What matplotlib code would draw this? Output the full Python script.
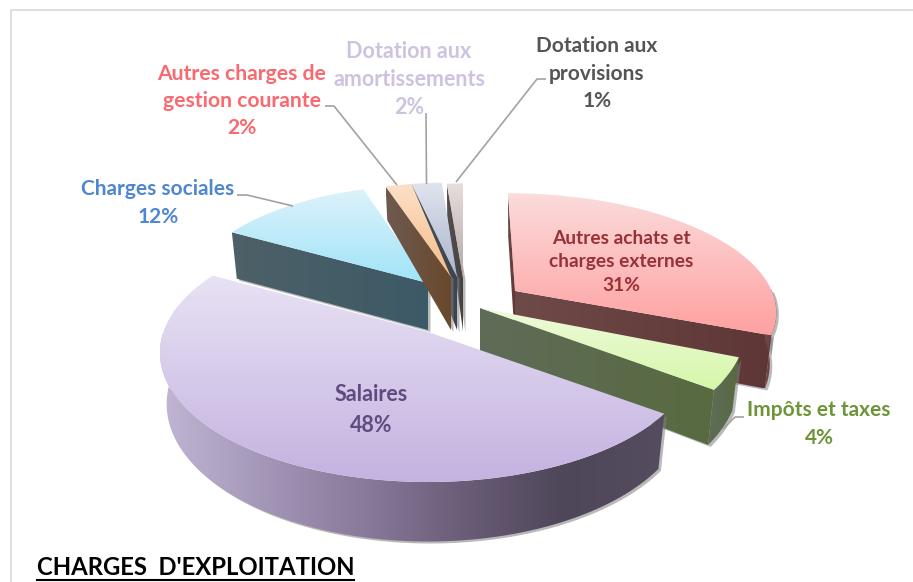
import numpy as np
import matplotlib
matplotlib.use("Agg")
import matplotlib.pyplot as plt
from matplotlib.colors import LinearSegmentedColormap
from matplotlib.patches import Polygon

plt.rcParams['font.family'] = ['Lato', 'DejaVu Sans']

categories = ["Autres achats et\ncharges externes", "Impôts et taxes", "Salaires", "Charges sociales",
              "Autres charges de\ngestion courante", "Dotation aux\namortissements", "Dotation aux\nprovisions"]
values = [31, 4, 48, 12, 2, 2, 1]
title = "CHARGES  D'EXPLOITATION"

# wedge placement on the page (explosion and local foreshortening), pixels
centers = [(515, 291), (480, 308), (428, 332), (428, 283), (451, 277), (457, 277), (463, 278)]
rx_scale = [.98, 1, 1.01, .92, .93, 1.07, 1.14]
ry_scale = [.9, 1, 1, .9, .87, .87, .87]
lean = [-7, 0, 0, 0, 0, 0, 0]
arc_depth = [1, 1, 1, 1, .78, .78, .78]
apex_depth = [50, 50, 50, 47, 53, 53, 53]
top_cols = [("#fbdcdc", "#ffa0a0"), ("#eefadc", "#d6f7a8"), ("#e8e2f4", "#c4b2e0"), ("#dcf2fb", "#a0e4f8"),
            ("#fbe0c8", "#f8bd88"), ("#e0e4ee", "#aab6cc"), ("#e8dede", "#b4a6a6")]
side_cols = [("#6e4a48", "#5e3636"), ("#5f6c58", "#586a40"), ("#c2b6d4", "#4c4558"), ("#4e6068", "#3c5a66"),
             ("#6e5a50", "#69482c"), ("#4a5060", "#3c4450"), ("#565050", "#444040")]
draw_order = [6, 5, 0, 1, 3, 2, 4]
# which radial sides of each wedge are visible: 0 start edge, 1 end edge
radial_sides = [[0, 1], [1], [], [0], [0], [0], [0]]

RX, RY, PERSP, DEPTH, SHRINK = 262, 126, .16, 50, .975

text_cols = ["#983236", "#6e9438", "#5f4b80", "#4f86d0", "#f9696f", "#cdc3e0", "#555555"]
label_pos = [(621, 262), (819, 424), (371, 410), (158, 203), (242, 101), (409, 79.5), (597, 73.5)]
label_size = [13.8, 15, 15.5, 15, 15.2, 15.5, 15]
label_spacing = [1.46, 1.45, 1.55, 1.45, 1.46, 1.40, 1.46]
leaders = [None,
           [(744, 417), (735, 417), (723, 429)],
           None,
           [(237, 195), (247, 195), (293, 206)],
           [(325, 106), (334, 106), (397, 185)],
           [(426, 113), (426.5, 184)],
           [(546, 79), (537, 79), (456, 182)]]

fig = plt.figure(figsize=(9.13, 5.82), dpi=100)
ax = fig.add_axes([0, 0, 1, 1])


def gradient(poly, stops, horizontal, zorder):
    pts = np.asarray(poly)
    lo, hi = pts.min(axis=0), pts.max(axis=0)
    cmap = LinearSegmentedColormap.from_list("g", list(stops))
    g = np.linspace(0, 1, 256)
    arr = g[None, :] if horizontal else g[:, None]
    im = ax.imshow(arr, cmap=cmap, extent=(lo[0], hi[0], hi[1], lo[1]), aspect='auto',
                   origin='upper', zorder=zorder, interpolation='bilinear')
    p = Polygon(pts, closed=True, transform=ax.transData, fc='none', ec='none')
    ax.add_patch(p)
    im.set_clip_path(p)


def project(theta, i, lower=False):
    c = centers[i]
    s = 1 / (1 + PERSP * np.cos(theta))
    k = SHRINK if lower else 1
    x = c[0] + (RX * rx_scale[i] * np.sin(theta) * s + lean[i] * np.cos(theta)) * k
    y = c[1] - RY * ry_scale[i] * np.cos(theta) * s + (DEPTH * arc_depth[i] * s if lower else 0)
    return np.column_stack([np.atleast_1d(x), np.atleast_1d(y)])


edges = np.deg2rad(np.r_[0, np.cumsum(values)] / sum(values) * 360)
z = 2
for i in draw_order:
    a0, a1 = edges[i], edges[i + 1]
    c = centers[i]
    th = np.linspace(a0, a1, 120)
    top_arc = project(th, i)
    low_arc = project(th, i, True)
    apex = np.array([c])
    apex_low = np.array([[c[0], c[1] + apex_depth[i]]])

    sides = []
    for e in radial_sides[i]:
        j = 0 if e == 0 else -1
        sides.append(np.vstack([apex, top_arc[[j]], low_arc[[j]], apex_low]))
    mask = (th > np.pi / 2 - .02) & (th < 3 * np.pi / 2 + .02)
    if mask.any() and i <= 2:
        sides.append(np.vstack([top_arc[mask], low_arc[mask][::-1]]))

    for s in sides:
        ax.add_patch(Polygon(s + [2.5, 2], closed=True, fc="#808080", ec='none', alpha=.55, zorder=z))
    z += 1
    if i == 2:
        stops = ["#c2b6d4", "#a497b8", "#8a7a9c", "#6a5d78", "#4e4659", "#554c60"]
    else:
        stops = side_cols[i]
    for s in sides:
        gradient(s, stops, True, z)
        z += 1
    gradient(np.vstack([apex, top_arc]), top_cols[i], False, z)
    z += 1

for i, cat in enumerate(categories):
    ax.text(label_pos[i][0], label_pos[i][1], f"{cat}\n{values[i]}%", color=text_cols[i], fontsize=label_size[i],
            fontweight='bold', ha='center', va='center', linespacing=label_spacing[i], zorder=50)
    if leaders[i]:
        xs, ys = zip(*leaders[i])
        ax.plot(xs, ys, color="#a2a2a2", lw=1.2, zorder=40, solid_capstyle='butt')

ax.plot([11, 11, 913], [582, 9.5, 9.5], color="#dedede", lw=1.4, zorder=1)
ax.text(37, 567.5, title, color="#000000", fontsize=17.2, fontweight='bold', ha='left', va='center', zorder=50)
ax.plot([37, 354], [579.5, 579.5], color="#000000", lw=1.5, zorder=50)

ax.set_xlim(0, 913)
ax.set_ylim(582, 0)
ax.axis('off')
fig.savefig("out.png", dpi=100, facecolor="white")
